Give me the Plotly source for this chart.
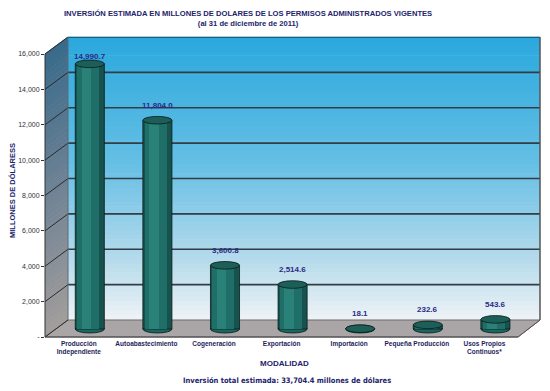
import plotly.graph_objects as go

# ---------------- data ----------------
categories = ["Producción<br>Independiente", "Autoabastecimiento", "Cogeneración",
              "Exportación", "Importación", "Pequeña Producción", "Usos Propios<br>Continuos*"]
values = [14990.7, 11804.0, 3600.8, 2514.6, 18.1, 232.6, 543.6]
y_tickvals = [0, 2000, 4000, 6000, 8000, 10000, 12000, 14000, 16000]
y_ticktext = ["-", "2,000", "4,000", "6,000", "8,000", "10,000", "12,000", "14,000", "16,000"]
title_text = ("<b>INVERSIÓN ESTIMADA EN MILLONES DE DOLARES DE LOS PERMISOS ADMINISTRADOS VIGENTES</b><br>"
              "<b>(al 31 de diciembre de 2011)</b>")
y_title = "MILLONES DE DÓLARESS"
x_title = "MODALIDAD"
footnote = "Inversión total estimada: 33,704.4 millones de dólares"

# ---------------- style / geometry ----------------
W, H = 550, 391
L, R, T, B = 45, 10, 37, 54
plot_w = W - L - R
plot_h = H - T - B
units_per_px = 16000 / 283.0          # front-plane scale
depth_dx_px, depth_dy_px = 23, 17     # perspective offset of back wall
depth_x = depth_dx_px / plot_w        # in paper units
depth_y_paper = depth_dy_px / plot_h
depth_units = depth_dy_px * units_per_px
bar_lift_px = 8                       # bars sit half-way in depth
x_scale_px = 67.6
x0 = -(89.8 - L) / x_scale_px
x1 = x0 + plot_w / x_scale_px
y_bar_range = [-bar_lift_px * units_per_px, (plot_h - bar_lift_px) * units_per_px]
y_front_range = [0, plot_h * units_per_px]
label_cap = (plot_h - bar_lift_px - (56 - T)) * units_per_px

navy = "#23236b"
bar_w = 0.43

def lerp(c1, c2, t):
    a = [int(c1[i:i + 2], 16) for i in (1, 3, 5)]
    b = [int(c2[i:i + 2], 16) for i in (1, 3, 5)]
    return "rgb(%d,%d,%d)" % tuple(round(a[k] + (b[k] - a[k]) * t) for k in range(3))

def grad(stops, t):
    for k in range(len(stops) - 1):
        t0, c0 = stops[k]
        t1, c1 = stops[k + 1]
        if t <= t1:
            return lerp(c0, c1, (t - t0) / (t1 - t0))
    return lerp(stops[-1][1], stops[-1][1], 0)

shapes = []
# back wall gradient
N = 60
wall_stops = [(0, "#2aa8dd"), (0.45, "#66bfe5"), (0.8, "#b9dcec"), (1, "#eef3f6")]
for k in range(N):
    ya = depth_y_paper + (1 - depth_y_paper) * k / N
    yb = depth_y_paper + (1 - depth_y_paper) * (k + 1) / N
    t = 1 - (k + 0.5) / N
    shapes.append(dict(type="rect", xref="paper", yref="paper", x0=depth_x, x1=1, y0=ya, y1=yb + 0.002,
                       fillcolor=grad(wall_stops, t), line=dict(width=0), layer="below"))
# left wall gradient (parallelogram strips)
left_stops = [(0, "#386a8b"), (0.5, "#6e8294"), (1, "#a29d9c")]
top_front = 1 - depth_y_paper
for k in range(N):
    fa = top_front * k / N
    fb = top_front * (k + 1) / N + 0.002
    t = 1 - (k + 0.5) / N
    path = (f"M 0 {fa} L {depth_x} {fa + depth_y_paper} L {depth_x} {fb + depth_y_paper} L 0 {fb} Z")
    shapes.append(dict(type="path", xref="paper", yref="paper", path=path,
                       fillcolor=grad(left_stops, t), line=dict(width=0), layer="below"))
# floor
floor_right = (518 - L) / plot_w
shapes.append(dict(type="path", xref="paper", yref="paper",
                   path=f"M 0 0 L {depth_x} {depth_y_paper} L 1 {depth_y_paper} L {floor_right} 0 Z",
                   fillcolor="#aaa6a7", line=dict(color="#6e6a6b", width=1), layer="below"))
# back wall gridlines (back plane) and left-wall diagonals
for v in y_tickvals[1:]:
    shapes.append(dict(type="line", xref="paper", yref="y2", x0=depth_x, x1=1,
                       y0=v + depth_units, y1=v + depth_units,
                       line=dict(color="#333d45", width=1.6), layer="below"))
for v in y_tickvals:
    shapes.append(dict(type="line", xref="paper", yref="y2", x0=0, x1=depth_x,
                       y0=v, y1=v + depth_units, line=dict(color="#2b2b2b", width=1), layer="below"))
# wall edges
shapes.append(dict(type="line", xref="paper", yref="paper", x0=depth_x, x1=depth_x, y0=depth_y_paper, y1=1,
                   line=dict(color="#5a6a75", width=1), layer="below"))
shapes.append(dict(type="line", xref="paper", yref="paper", x0=1, x1=1, y0=depth_y_paper, y1=1,
                   line=dict(color="#555", width=1.5), layer="below"))
shapes.append(dict(type="line", xref="paper", yref="paper", x0=1, x1=floor_right, y0=depth_y_paper, y1=0,
                   line=dict(color="#555", width=1), layer="below"))
shapes.append(dict(type="line", xref="paper", yref="paper", x0=0, x1=0, y0=0, y1=top_front,
                   line=dict(color="#333", width=1), layer="below"))
shapes.append(dict(type="line", xref="paper", yref="paper", x0=0, x1=floor_right, y0=0, y1=0,
                   line=dict(color="#444", width=1.2), layer="below"))

# cylinder ends
ell_top = 3.8 * units_per_px
ell_bot = 4.0 * units_per_px
for i, v in enumerate(values):
    shapes.append(dict(type="circle", xref="x", yref="y", x0=i - bar_w / 2, x1=i + bar_w / 2,
                       y0=-ell_bot, y1=ell_bot, fillcolor="#1b6660",
                       line=dict(color="#0a1a18", width=0.8), layer="between"))
    shapes.append(dict(type="circle", xref="x", yref="y", x0=i - bar_w / 2, x1=i + bar_w / 2,
                       y0=v - ell_top, y1=v + ell_top, fillcolor="#1c5f59",
                       line=dict(color="#0a1a18", width=0.8), layer="above"))

xs = list(range(len(categories)))
fig = go.Figure()
fig.add_trace(go.Bar(x=xs, y=values, width=bar_w, offset=-bar_w / 2,
                     marker=dict(color="#17534e", line=dict(color="#0a1a18", width=0.8)),
                     hoverinfo="skip", showlegend=False))
fig.add_trace(go.Bar(x=xs, y=values, width=0.33, offset=-0.19,
                     marker=dict(color="#1f6f68", line=dict(width=0)), hoverinfo="skip", showlegend=False))
fig.add_trace(go.Bar(x=xs, y=values, width=0.14, offset=-0.12,
                     marker=dict(color="#2a8178", line=dict(width=0)), hoverinfo="skip", showlegend=False))
# invisible trace to activate the front-plane axis
fig.add_trace(go.Scatter(x=[xs[0]], y=[0], yaxis="y2", mode="markers",
                         marker=dict(opacity=0), hoverinfo="skip", showlegend=False))

annotations = []
for i, v in enumerate(values):
    annotations.append(dict(x=i, y=min(v + 15 * units_per_px, label_cap), xref="x", yref="y",
                            text=f"<b>{v:,.1f}</b>", showarrow=False, yanchor="middle",
                            font=dict(size=8, color="#2b2b85", family="Liberation Sans")))
annotations.append(dict(x=(248 - L) / plot_w, y=1.0, xref="paper", yref="paper", yanchor="bottom",
                        xanchor="center", text=title_text, showarrow=False, yshift=7,
                        font=dict(size=7.6, color=navy, family="Liberation Sans")))
annotations.append(dict(x=(12 - L) / plot_w, y=(337 - 191) / plot_h, xref="paper", yref="paper",
                        xanchor="center", yanchor="middle", text=f"<b>{y_title}</b>",
                        textangle=-90, showarrow=False, font=dict(size=7.5, color=navy, family="Liberation Sans")))
annotations.append(dict(x=(284 - L) / plot_w, y=-(363 - 337) / plot_h, xref="paper", yref="paper",
                        xanchor="center", yanchor="middle", text=f"<b>{x_title}</b>", showarrow=False,
                        font=dict(size=8, color=navy, family="Liberation Sans")))
annotations.append(dict(x=(287 - L) / plot_w, y=-(380 - 337) / plot_h, xref="paper", yref="paper",
                        xanchor="center", yanchor="middle", text=f"<b>{footnote}</b>", showarrow=False,
                        font=dict(size=7.5, color=navy, family="DejaVu Sans Condensed, Liberation Sans")))

fig.update_layout(
    width=W, height=H, margin=dict(l=L, r=R, t=T, b=B, pad=0),
    paper_bgcolor="white", plot_bgcolor="rgba(0,0,0,0)",
    barmode="overlay", bargap=0, hovermode=False,
    xaxis=dict(range=[x0, x1], tickvals=xs, ticktext=[f"<b>{c}</b>" for c in categories],
               showgrid=False, zeroline=False, showline=False, ticks="",
               ticklabelshift=-11, ticklabelstandoff=1,
               tickfont=dict(size=6.5, color="#1e1e5a", family="Liberation Sans")),
    yaxis=dict(range=y_bar_range, showgrid=False, zeroline=False, showticklabels=False, visible=False),
    yaxis2=dict(range=y_front_range, overlaying="y", side="left", anchor="x",
                tickvals=y_tickvals, ticktext=y_ticktext, showgrid=False, zeroline=False,
                ticks="outside", ticklen=3, tickcolor="#333", showline=False,
                tickfont=dict(size=7, color="#333", family="Liberation Sans")),
    shapes=shapes, annotations=annotations, showlegend=False,
)
fig.write_html("out.html", config={"displayModeBar": False, "staticPlot": True},
               post_script="document.body.style.margin='0';")
